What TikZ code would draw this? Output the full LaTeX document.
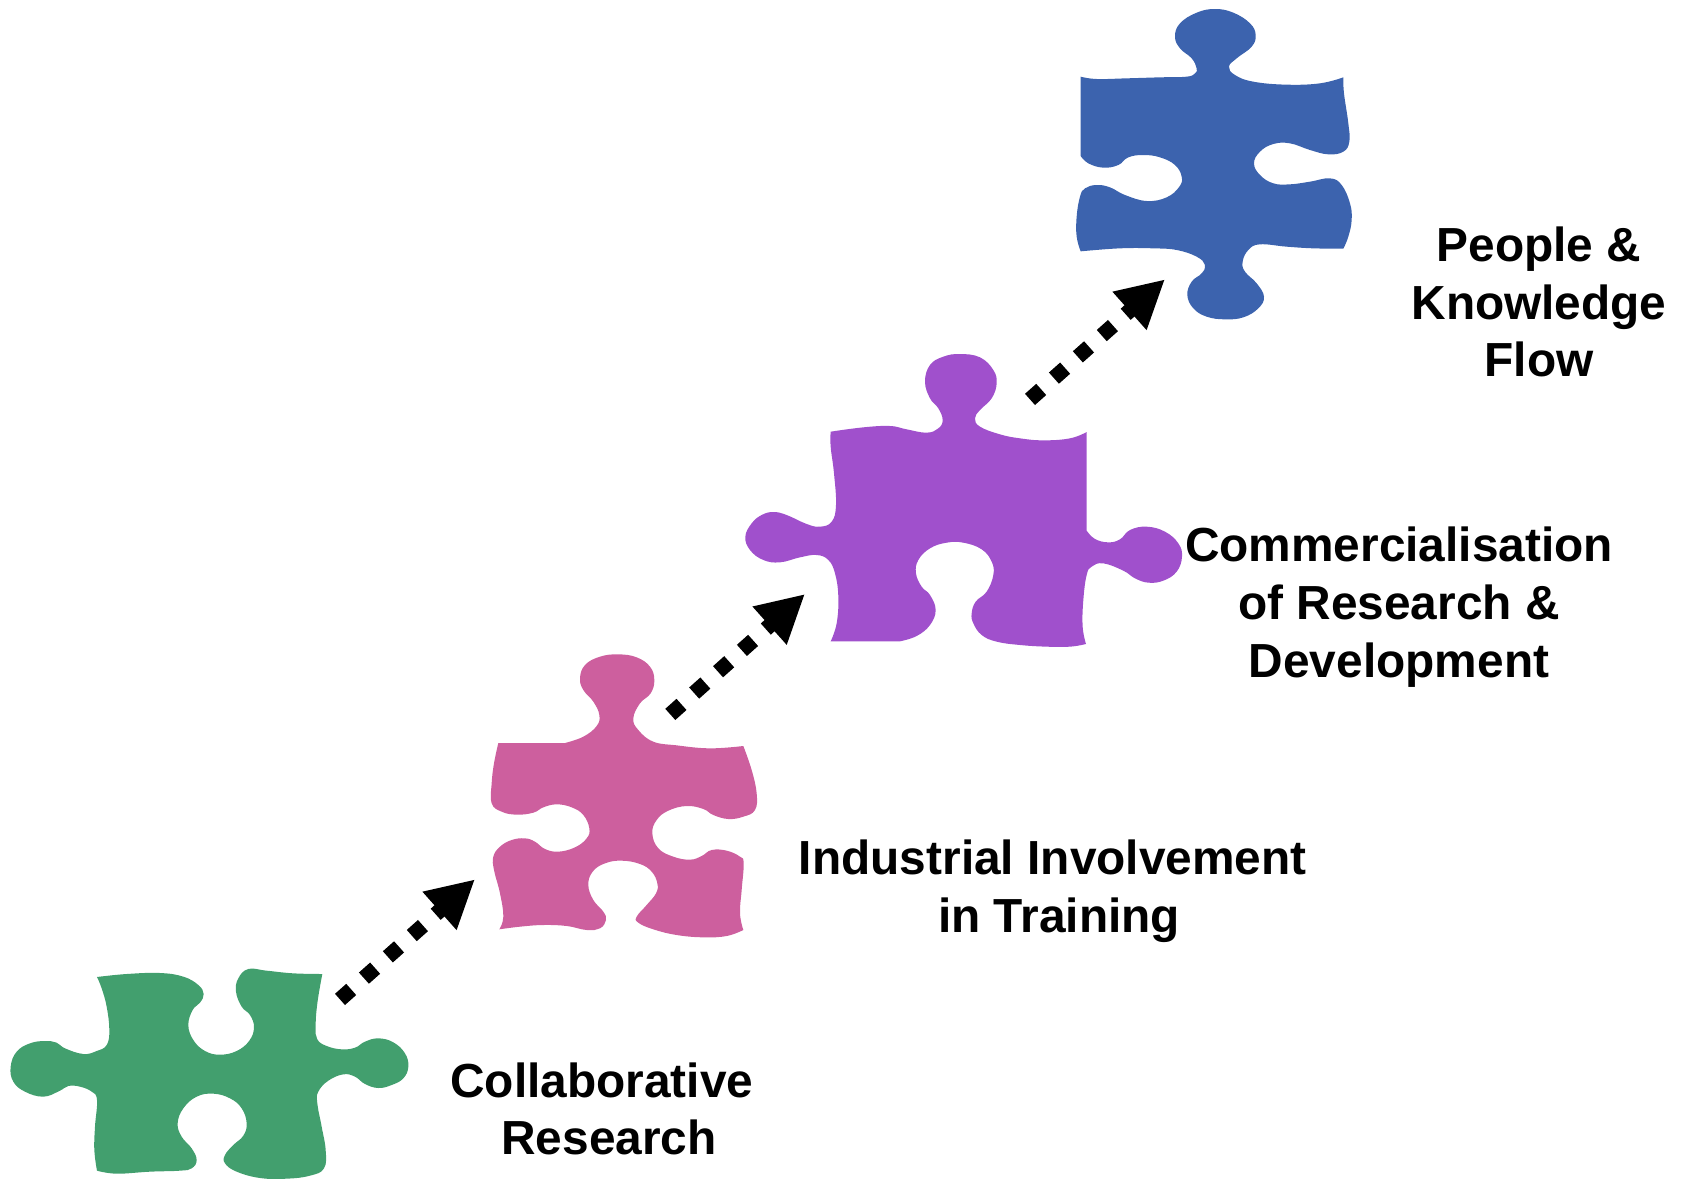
\documentclass[tikz,border=0pt]{standalone}
\usepackage{fontspec}
\setmainfont{Liberation Sans}
\usetikzlibrary{arrows.meta}
\definecolor{collabgreen}{RGB}{66,159,110}
\definecolor{trainpink}{RGB}{205,95,158}
\definecolor{commpurple}{RGB}{160,80,204}
\definecolor{flowblue}{RGB}{60,99,174}
\tikzset{
  edge/.style={smooth,tension=.7},
  label/.style={align=center,inner sep=0pt,font=\fontsize{13.6}{16.4}\selectfont\bfseries},
  stepflow/.style={line width=.15cm,dash pattern=on .15cm off .17cm,-{Triangle[length=.475cm,width=.477cm]}}
}
\begin{document}
\begin{tikzpicture}[x=.01cm,y=-.01cm]
\useasboundingbox (0,0) rectangle (1687,1178);

\begin{scope}[shift={(0,950)},scale=1/3] % Collaborative piece
\fill[collabgreen] plot[edge] coordinates {(291,81) (380,72) (480,69) (550,80) (595,105) (611,132) (600,158) (578,180) (565,225) (580,270) (615,303) (660,314) (710,303) (748,272) (762,232) (750,195) (725,170) (708,125) (715,85) (745,57) (800,62) (880,70) (967,72)}
 -- plot[edge] coordinates {(967,72) (952,160) (947,230) (952,268) (980,288) (1025,298) (1065,293) (1095,275) (1135,265) (1180,277) (1215,310) (1225,350) (1210,385) (1175,405) (1135,414) (1095,402) (1065,380) (1030,373) (985,392) (955,425) (952,460) (965,530) (977,600) (972,655) (930,677) (860,686) (780,684) (710,665) (675,640) (675,615) (700,585) (730,557) (740,520) (725,475) (690,445) (640,431) (590,440) (550,475) (533,520) (545,560) (575,595) (590,630) (575,655) (540,662) (450,665) (350,671) (291,662)}
 -- plot[edge] coordinates {(291,662) (283,600) (285,530) (291,450) (275,425) (240,410) (205,408) (178,423) (130,440) (75,425) (40,395) (32,350) (50,305) (90,280) (135,273) (170,278) (195,295) (250,312) (290,303) (320,285) (328,240) (320,170) (305,115) (291,81)} -- cycle;
\end{scope}

\begin{scope}[shift={(470,640)},scale=1/3] % Training piece
\fill[trainpink] (85,309) -- plot[edge] coordinates {(285,309) (340,290) (380,258) (388,225) (370,185) (340,150) (330,115) (345,75) (390,50) (445,43) (500,52) (540,80) (553,120) (542,160) (510,190) (490,235) (505,270) (550,305) (620,316) (720,325) (820,318)}
 -- plot[edge] coordinates {(820,318) (845,390) (860,460) (855,510) (820,530) (775,537) (730,525) (700,507) (650,498) (595,512) (560,540) (547,580) (565,625) (610,650) (660,659) (695,648) (725,630) (770,632) (810,650) (821,670) (815,750) (810,820) (820,870)}
 -- plot[edge] coordinates {(820,870) (770,888) (700,892) (620,885) (550,868) (505,848) (500,830) (530,795) (558,760) (562,730) (545,695) (510,672) (455,662) (405,670) (368,695) (355,735) (370,780) (400,815) (408,840) (390,865) (350,870) (290,858) (220,855) (150,860) (88,868)}
 -- plot[edge] coordinates {(88,868) (100,830) (90,760) (72,690) (70,650) (90,620) (125,600) (165,595) (195,605) (225,627) (265,635) (315,622) (350,595) (358,565) (340,525) (305,502) (260,493) (220,502) (190,518) (140,524) (95,515) (65,490) (65,430) (72,370) (85,309)} -- cycle;
\end{scope}

\begin{scope}[shift={(730,340)},scale=1/3] % Commercialisation piece
\fill[commpurple] plot[edge] coordinates {(302,275) (400,262) (480,258) (530,268) (590,278) (625,265) (638,240) (625,205) (600,175) (585,125) (600,75) (640,50) (690,42) (750,52) (790,90) (800,130) (785,175) (750,210) (735,235) (750,260) (810,283) (870,295) (940,301) (1020,295) (1070,276)}
 -- plot[edge] coordinates {(1070,572) (1095,597) (1135,607) (1170,598) (1200,570) (1250,560) (1305,575) (1345,610) (1356,650) (1340,695) (1300,722) (1255,728) (1215,715) (1180,692) (1120,670) (1085,680) (1070,705) (1060,780) (1058,860) (1068,912)}
 -- plot[edge] coordinates {(1068,912) (1020,920) (950,920) (870,915) (800,905) (755,885) (730,850) (725,820) (737,785) (770,755) (790,705) (785,665) (755,628) (700,608) (650,608) (600,625) (565,660) (558,700) (575,740) (600,765) (617,810) (600,855) (560,888) (510,904)}
 -- plot[edge] coordinates {(302,904) (320,850) (325,770) (315,700) (295,660) (260,645) (210,652) (150,667) (100,660) (60,630) (46,590) (65,550) (95,525) (130,516) (170,525) (230,552) (270,560) (305,545) (318,495) (312,400) (302,320) (302,275)} -- cycle;
\end{scope}

\begin{scope}[shift={(1060,0)},scale=1/3] % Knowledge piece
\fill[flowblue] plot[edge] coordinates {(62,230) (110,237) (200,235) (300,232) (380,230) (405,220) (410,205) (395,175) (360,145) (345,110) (360,70) (410,38) (465,27) (520,38) (570,70) (587,105) (575,140) (530,175) (507,200) (525,225) (580,245) (680,254) (780,250) (850,232)}
 -- plot[edge] coordinates {(850,232) (852,280) (865,370) (868,425) (850,455) (805,463) (750,450) (690,430) (640,432) (600,455) (582,490) (600,525) (640,550) (690,553) (750,545) (810,535) (845,555) (870,610) (875,660) (865,710) (850,746)}
 -- plot[edge] coordinates {(850,746) (760,745) (680,740) (600,733) (565,750) (548,785) (555,815) (590,850) (612,890) (595,925) (550,952) (495,958) (440,950) (400,925) (382,885) (395,845) (425,820) (435,795) (410,770) (350,750) (280,745) (180,745) (62,754)}
 -- plot[edge] coordinates {(62,754) (50,710) (50,650) (60,590) (75,565) (110,555) (150,562) (195,585) (260,603) (320,592) (358,560) (365,530) (345,495) (300,472) (250,465) (205,472) (175,495) (130,503) (85,490) (62,468)} -- cycle;
\end{scope}

\coordinate (greenout) at (340,999.4);
\coordinate (pinkin) at (475,879.3);
\coordinate (pinkout) at (670.3,714.4);
\coordinate (purplein) at (805,594);
\coordinate (purpleout) at (1030,399.4);
\coordinate (bluein) at (1165,279.3);
\draw[stepflow] (greenout) -- (pinkin);
\draw[stepflow] (pinkout) -- (purplein);
\draw[stepflow] (purpleout) -- (bluein);

\node[label] (collab) at (609,1109) {Collaborative\hspace*{.3em}\\Research};
\node[label] (train) at (1059,891) {Industrial Involvement\hspace*{.26em}\\in Training};
\node[label] (comm) at (1399,607) {Commercialisation\\of Research \&\\Development};
\node[label] (flow) at (1539,302) {People \&\\Knowledge\\Flow};
\end{tikzpicture}
\end{document}
